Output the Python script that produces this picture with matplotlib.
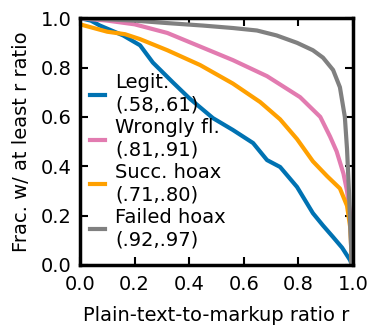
import matplotlib
matplotlib.use("Agg")
import matplotlib.pyplot as plt

# complementary CDF of plain-text-to-markup ratio per class
legit_r = [0.0, 0.04, 0.073, 0.158, 0.22, 0.267, 0.34, 0.40, 0.487, 0.56,
           0.634, 0.685, 0.733, 0.795, 0.853, 0.89, 0.927, 0.96, 0.989, 0.996]
legit_f = [1.0, 0.99, 0.97, 0.93, 0.89, 0.82, 0.74, 0.676, 0.595, 0.547,
           0.494, 0.425, 0.397, 0.316, 0.21, 0.16, 0.113, 0.07, 0.02, 0.0]

wrong_r = [0.0, 0.1, 0.2, 0.32, 0.44, 0.56, 0.685, 0.806, 0.88, 0.916, 0.94,
           0.965, 0.978, 0.99, 0.996]
wrong_f = [1.0, 0.99, 0.975, 0.94, 0.885, 0.83, 0.765, 0.68, 0.60, 0.52, 0.46,
           0.37, 0.30, 0.20, 0.0]

succ_r = [0.0, 0.05, 0.1, 0.165, 0.22, 0.32, 0.44, 0.56, 0.66, 0.733, 0.795,
          0.853, 0.905, 0.952, 0.978, 0.99, 0.996]
succ_f = [0.975, 0.96, 0.945, 0.935, 0.915, 0.87, 0.81, 0.735, 0.66, 0.59, 0.51,
          0.42, 0.36, 0.31, 0.24, 0.15, 0.0]

fail_r = [0.0, 0.2, 0.32, 0.45, 0.56, 0.648, 0.72, 0.795, 0.853, 0.89, 0.927,
          0.952, 0.97, 0.978, 0.985, 0.99, 0.996]
fail_f = [1.0, 0.99, 0.98, 0.97, 0.96, 0.95, 0.93, 0.90, 0.87, 0.84, 0.79,
          0.72, 0.60, 0.47, 0.30, 0.15, 0.0]

labels = ["Legit.\n(.58,.61)", "Wrongly fl.\n(.81,.91)",
          "Succ. hoax\n(.71,.80)", "Failed hoax\n(.92,.97)"]
colors = ["#0072B2", "#E27BB0", "#FFA000", "#808080"]

plt.rcParams['font.size'] = 14
fig = plt.figure(figsize=(3.72, 3.30), dpi=100)
ax = fig.add_axes([0.215, 0.197, 0.734, 0.748])

series = [(legit_r, legit_f), (wrong_r, wrong_f), (succ_r, succ_f), (fail_r, fail_f)]
for (r, f), lab, c in zip(series, labels, colors):
    ax.plot(r, f, color=c, linewidth=3, label=lab)

ax.set_xlim(0, 1)
ax.set_ylim(0, 1)
ax.set_xticks([0, 0.2, 0.4, 0.6, 0.8, 1.0])
ax.set_yticks([0, 0.2, 0.4, 0.6, 0.8, 1.0])
ax.tick_params(direction='in', length=6, width=1.5, top=True, right=True,
               labelsize=14)
ax.tick_params(axis='x', pad=7)
ax.tick_params(axis='y', pad=6)
for s in ax.spines.values():
    s.set_linewidth(2.5)

ax.set_xlabel("Plain-text-to-markup ratio r", labelpad=9)
ax.set_ylabel("Frac. w/ at least r ratio", labelpad=7)

ax.legend(loc='center left', bbox_to_anchor=(0.0, 0.42), frameon=False,
          handlelength=0.8, handletextpad=0.5, labelspacing=0.2,
          borderpad=0.2, borderaxespad=0.3)

fig.savefig("out.png", dpi=100)
